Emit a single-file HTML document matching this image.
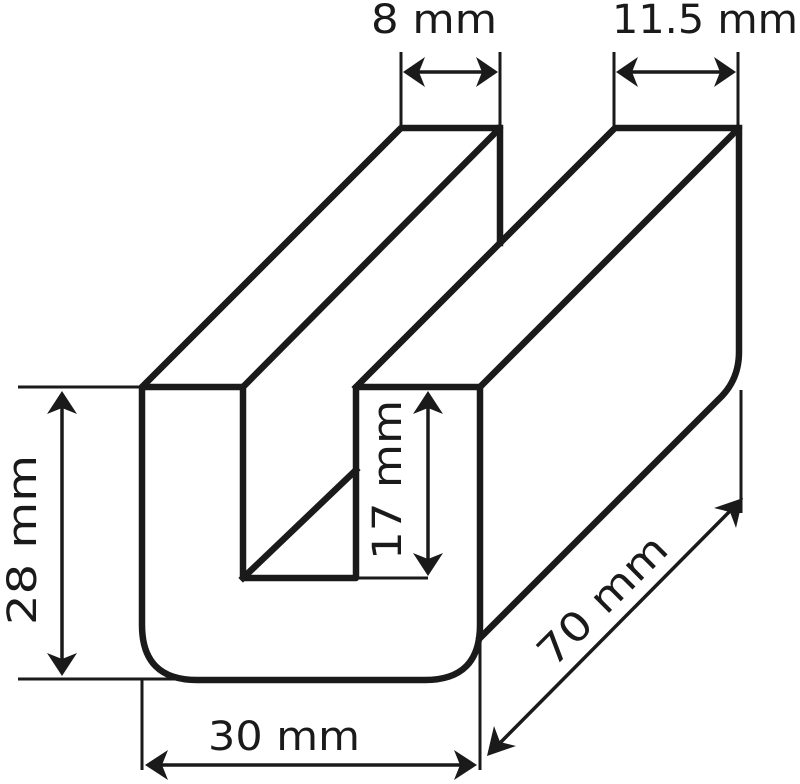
<!DOCTYPE html>
<html><head><style>
html,body{margin:0;padding:0;background:#fff;}
svg{display:block;}
text{font-family:"DejaVu Sans","Liberation Sans",sans-serif;font-size:40px;fill:#1a1a1a;}
</style></head><body>
<svg width="800" height="784" viewBox="0 0 800 784" xmlns="http://www.w3.org/2000/svg">
<g stroke="#1a1a1a" fill="none" stroke-linejoin="round" stroke-linecap="square">
<path d="M142,387 L243,387 L243,578 L356,578 L356,387 L480,387 L480,625 Q480,680 425,680 L197,680 Q142,680 142,625 Z" stroke-width="6.5"/>
<path d="M142,387 L401,128 L500,128 L243,387" stroke-width="6.5"/>
<path d="M500,128 L500,243" stroke-width="6.5"/>
<path d="M356,387 L615,128 L739,128 L480,387" stroke-width="6.5"/>
<path d="M739,128 L739,352 Q739,378 722,396 L480,638" stroke-width="6.5"/>
<path d="M243,578 L356,470" stroke-width="6.5"/>
<g stroke-width="3" stroke-linecap="butt">
<line x1="401" y1="52" x2="401" y2="128"/>
<line x1="500" y1="52" x2="500" y2="128"/>
<line x1="614" y1="52" x2="614" y2="128"/>
<line x1="738" y1="52" x2="738" y2="128"/>
<line x1="18" y1="387" x2="142" y2="387"/>
<line x1="18" y1="679" x2="190" y2="679"/>
<line x1="142" y1="680" x2="142" y2="770"/>
<line x1="480" y1="640" x2="480" y2="770"/>
<line x1="741" y1="390" x2="741" y2="513"/>
<line x1="356" y1="578" x2="428" y2="578"/>
</g>
<g stroke-width="3.5">
<line x1="415" y1="72" x2="487" y2="72"/>
<line x1="628" y1="72" x2="725" y2="72"/>
<line x1="62" y1="405" x2="62" y2="663"/>
<line x1="428" y1="405" x2="428" y2="563"/>
<line x1="157" y1="765" x2="466" y2="765"/>
<line x1="498" y1="745" x2="732" y2="509"/>
</g>
</g>
<g fill="#1a1a1a">
<polygon points="403,72 425,57 419,72 425,87"/>
<polygon points="498,72 476,57 482,72 476,87"/>
<polygon points="616,72 638,57 632,72 638,87"/>
<polygon points="736,72 714,57 720,72 714,87"/>
<polygon points="62,391 47,414 62,408 77,414"/>
<polygon points="62,676 47,653 62,659 77,653"/>
<polygon points="428,391 413,414 428,408 443,414"/>
<polygon points="428,576 413,553 428,559 443,553"/>
<polygon points="145,765 168,750 162,765 168,780"/>
<polygon points="477,765 454,750 460,765 454,780"/>
<polygon points="743,498 736,528 730,512 714,508"/>
<polygon points="487,756 494,726 500,742 516,746"/>
</g>
<text x="434" y="33" text-anchor="middle" textLength="126" lengthAdjust="spacingAndGlyphs">8 mm</text>
<text x="705" y="33" text-anchor="middle" textLength="186" lengthAdjust="spacingAndGlyphs">11.5 mm</text>
<text x="284" y="750" text-anchor="middle" textLength="152" lengthAdjust="spacingAndGlyphs">30 mm</text>
<text transform="translate(36,540) rotate(-90)" text-anchor="middle" textLength="170" lengthAdjust="spacingAndGlyphs">28 mm</text>
<text transform="translate(401,480) rotate(-90)" text-anchor="middle" textLength="160" lengthAdjust="spacingAndGlyphs">17 mm</text>
<text transform="translate(612,610) rotate(-45)" text-anchor="middle" textLength="165" lengthAdjust="spacingAndGlyphs">70 mm</text>
</svg>
</body></html>
